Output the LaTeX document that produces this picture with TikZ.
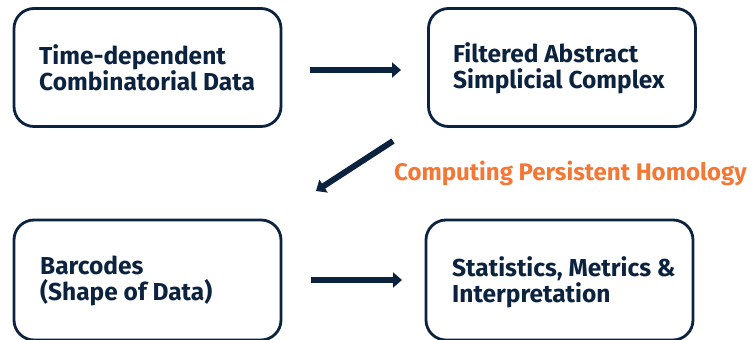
\documentclass[tikz,border=0pt]{standalone}
\usepackage{fontspec}
\setmainfont{Fira Sans}
\usetikzlibrary{arrows.meta}
\definecolor{navy}{HTML}{0C2340}
\definecolor{accent}{HTML}{F37735}
\begin{document}
\begin{tikzpicture}[x=1pt,y=-1pt,
  box/.style={draw=navy, line width=2.8pt, rounded corners=20pt, minimum width=267pt, minimum height=118pt, inner sep=0pt},
  lbl/.style={anchor=west, align=left, text=navy, font=\bfseries\fontsize{24.5}{26}\selectfont, inner sep=0pt},
  flow/.style={draw=navy, line width=6pt, -{Triangle[length=9pt,width=15pt]}}]
\useasboundingbox (0,0) rectangle (755,340);
\node[box] (b1) at (147.5,67.5) {};
\node[box] (b2) at (562,67.5) {};
\node[box, minimum height=120pt] (b3) at (147.5,280) {};
\node[box, minimum height=120pt] (b4) at (559.5,280) {};
\node[lbl] (t1) at (39,68) {Time-dependent\\Combinatorial Data};
\node[lbl] (t2) at (453,68) {Filtered Abstract\\Simplicial Complex};
\node[lbl] (t3) at (40,281) {Barcodes\\(Shape of Data)};
\node[lbl] (t4) at (452,282) {Statistics, Metrics \&\\Interpretation};
\coordinate (a1s) at (310,70);
\coordinate (a1e) at (401,70);
\coordinate (a2s) at (311,280);
\coordinate (a2e) at (402,280);
\coordinate (d1) at (393,141);
\coordinate (d2) at (316,191);
\draw[flow] (a1s) -- (a1e);
\draw[flow] (a2s) -- (a2e);
\draw[flow] (d1) -- (d2);
\node[anchor=west, text=accent, font=\bfseries\fontsize{24}{26}\selectfont, inner sep=0pt] (cph) at (394,173) {Computing Persistent Homology};
\end{tikzpicture}
\end{document}
